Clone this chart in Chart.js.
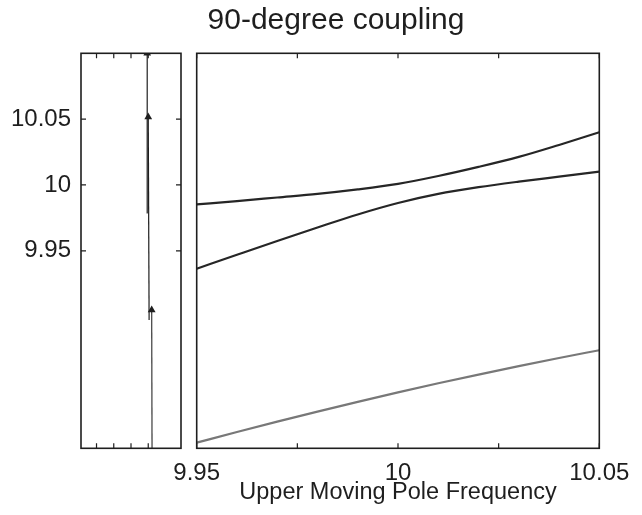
<!DOCTYPE html>
<html>
<head>
<meta charset="utf-8">
<script src="https://cdn.jsdelivr.net/npm/chart.js@4"></script>
<style>
  body { margin: 0; background: #fff; }
  #wrap { position: relative; width: 642px; height: 515px; }
  #wrap canvas { position: absolute; left: 0; top: 0; }
</style>
</head>
<body>
<div id="wrap">
  <canvas id="side" width="642" height="515"></canvas>
  <canvas id="main" width="642" height="515"></canvas>
</div>
<script>
// main panel: upper moving pole frequency vs. the three pole frequencies
const poleFreq = [9.95, 9.96, 9.97, 9.98, 9.99, 10, 10.01, 10.02, 10.03, 10.04, 10.05];
const upperBranch = [9.9852, 9.9878, 9.9905, 9.9932, 9.9966, 10.0008, 10.0068, 10.0137, 10.0213, 10.0304, 10.04];
const middleBranch = [9.9364, 9.947, 9.9575, 9.9677, 9.9776, 9.9863, 9.9932, 9.9983, 10.0025, 10.0063, 10.0101];
const lowerBranch = [9.8043, 9.8124, 9.8203, 9.8279, 9.8353, 9.8425, 9.8494, 9.856, 9.8624, 9.8686, 9.8745];
const mainTicks = [9.95, 9.975, 10, 10.025, 10.05];
const mainLabels = { "9.95": "9.95", "10": "10", "10.05": "10.05" };

// side panel: the three tracks with arrows
const trackX = [[3.22, 3.2], [3.05, 3.0], [2.97, 2.94]];
const trackY = [[9.8, 9.905], [9.8975, 10.0516], [9.9787, 10.1]];
const sideXTicks = [0, 1, 2, 3];
const freqTicks = [9.95, 10, 10.05];
const freqLabels = ["9.95", "10", "10.05"];

const FONT = "'Liberation Sans', Arial, sans-serif";
const INK = "#1e1e1e";

const frame = {
  id: "frame",
  afterDraw(chart, args, opts) {
    const { ctx, chartArea: a, scales } = chart;
    ctx.save();
    ctx.strokeStyle = INK;
    ctx.lineWidth = 1.6;
    ctx.strokeRect(a.left, a.top, a.right - a.left, a.bottom - a.top);
    ctx.lineWidth = 1.2;
    const len = 5;
    if (opts.xTicks) {
      scales.x.ticks.forEach((t) => {
        const px = scales.x.getPixelForValue(t.value);
        ctx.beginPath();
        ctx.moveTo(px, a.bottom); ctx.lineTo(px, a.bottom - len);
        ctx.moveTo(px, a.top); ctx.lineTo(px, a.top + len);
        ctx.stroke();
      });
    }
    if (opts.yTicks) {
      scales.y.ticks.forEach((t) => {
        const py = scales.y.getPixelForValue(t.value);
        ctx.beginPath();
        ctx.moveTo(a.left, py); ctx.lineTo(a.left + len, py);
        ctx.moveTo(a.right, py); ctx.lineTo(a.right - len, py);
        ctx.stroke();
      });
    }
    if (opts.title) {
      ctx.fillStyle = INK;
      ctx.font = "30px " + FONT;
      ctx.textAlign = "center";
      ctx.textBaseline = "alphabetic";
      ctx.fillText(opts.title, 336, 29);
    }
    ctx.restore();
  },
};

new Chart(document.getElementById("side"), {
  type: "scatter",
  data: {
    datasets: trackX.map((xs, i) => ({
      data: xs.map((x, j) => ({ x, y: trackY[i][j] })),
      showLine: true,
      borderColor: i === 0 ? "#3a3a3a" : INK,
      backgroundColor: INK,
      borderWidth: 1.2,
      pointStyle: "triangle",
      pointRadius: [0, 4.5],
      pointBorderWidth: 0,
    })),
  },
  options: {
    responsive: false,
    animation: false,
    layout: { padding: { left: 0, top: 53.3, right: 461, bottom: 66.7 } },
    plugins: {
      legend: { display: false },
      tooltip: { enabled: false },
      frame: { xTicks: true, yTicks: true, title: "90-degree coupling" },
    },
    scales: {
      x: {
        type: "linear",
        min: -0.9,
        max: 4.9,
        grid: { display: false },
        border: { display: false },
        ticks: { display: false },
        afterBuildTicks: (s) => { s.ticks = sideXTicks.map((v) => ({ value: v })); },
        afterFit: (s) => { s.height = 0; },
      },
      y: {
        type: "linear",
        min: 9.8,
        max: 10.1,
        grid: { display: false },
        border: { display: false },
        ticks: {
          padding: 2,
          color: INK,
          font: { family: FONT, size: 24 },
          callback: (v) => freqLabels[freqTicks.indexOf(v)],
        },
        afterBuildTicks: (s) => { s.ticks = freqTicks.map((v) => ({ value: v })); },
        afterFit: (s) => { s.width = 81; },
      },
    },
  },
  plugins: [frame],
});

const branch = (values, color) => ({
  data: poleFreq.map((x, i) => ({ x, y: values[i] })),
  showLine: true,
  borderColor: color,
  borderWidth: 2.2,
  pointRadius: 0,
  cubicInterpolationMode: "monotone",
});

new Chart(document.getElementById("main"), {
  type: "scatter",
  data: {
    datasets: [
      branch(upperBranch, "#262626"),
      branch(middleBranch, "#262626"),
      branch(lowerBranch, "#787878"),
    ],
  },
  options: {
    responsive: false,
    animation: false,
    layout: { padding: { left: 196.7, top: 53.3, right: 42.7, bottom: 6.7 } },
    plugins: {
      legend: { display: false },
      tooltip: { enabled: false },
      frame: { xTicks: true, yTicks: false },
    },
    scales: {
      x: {
        type: "linear",
        min: 9.95,
        max: 10.05,
        grid: { display: false },
        border: { display: false },
        ticks: {
          padding: 3,
          maxRotation: 0,
          autoSkip: false,
          color: INK,
          font: { family: FONT, size: 24 },
          callback: (v) => mainLabels[String(Math.round(v * 1000) / 1000)] || "",
        },
        afterBuildTicks: (s) => { s.ticks = mainTicks.map((v) => ({ value: v })); },
        afterFit: (s) => { s.height = 60; },
        title: {
          display: true,
          text: "Upper Moving Pole Frequency",
          color: INK,
          font: { family: FONT, size: 23.5 },
          padding: { top: 0, bottom: 2 },
        },
      },
      y: { type: "linear", min: 9.8, max: 10.1, display: false },
    },
  },
  plugins: [frame],
});
</script>
</body>
</html>
